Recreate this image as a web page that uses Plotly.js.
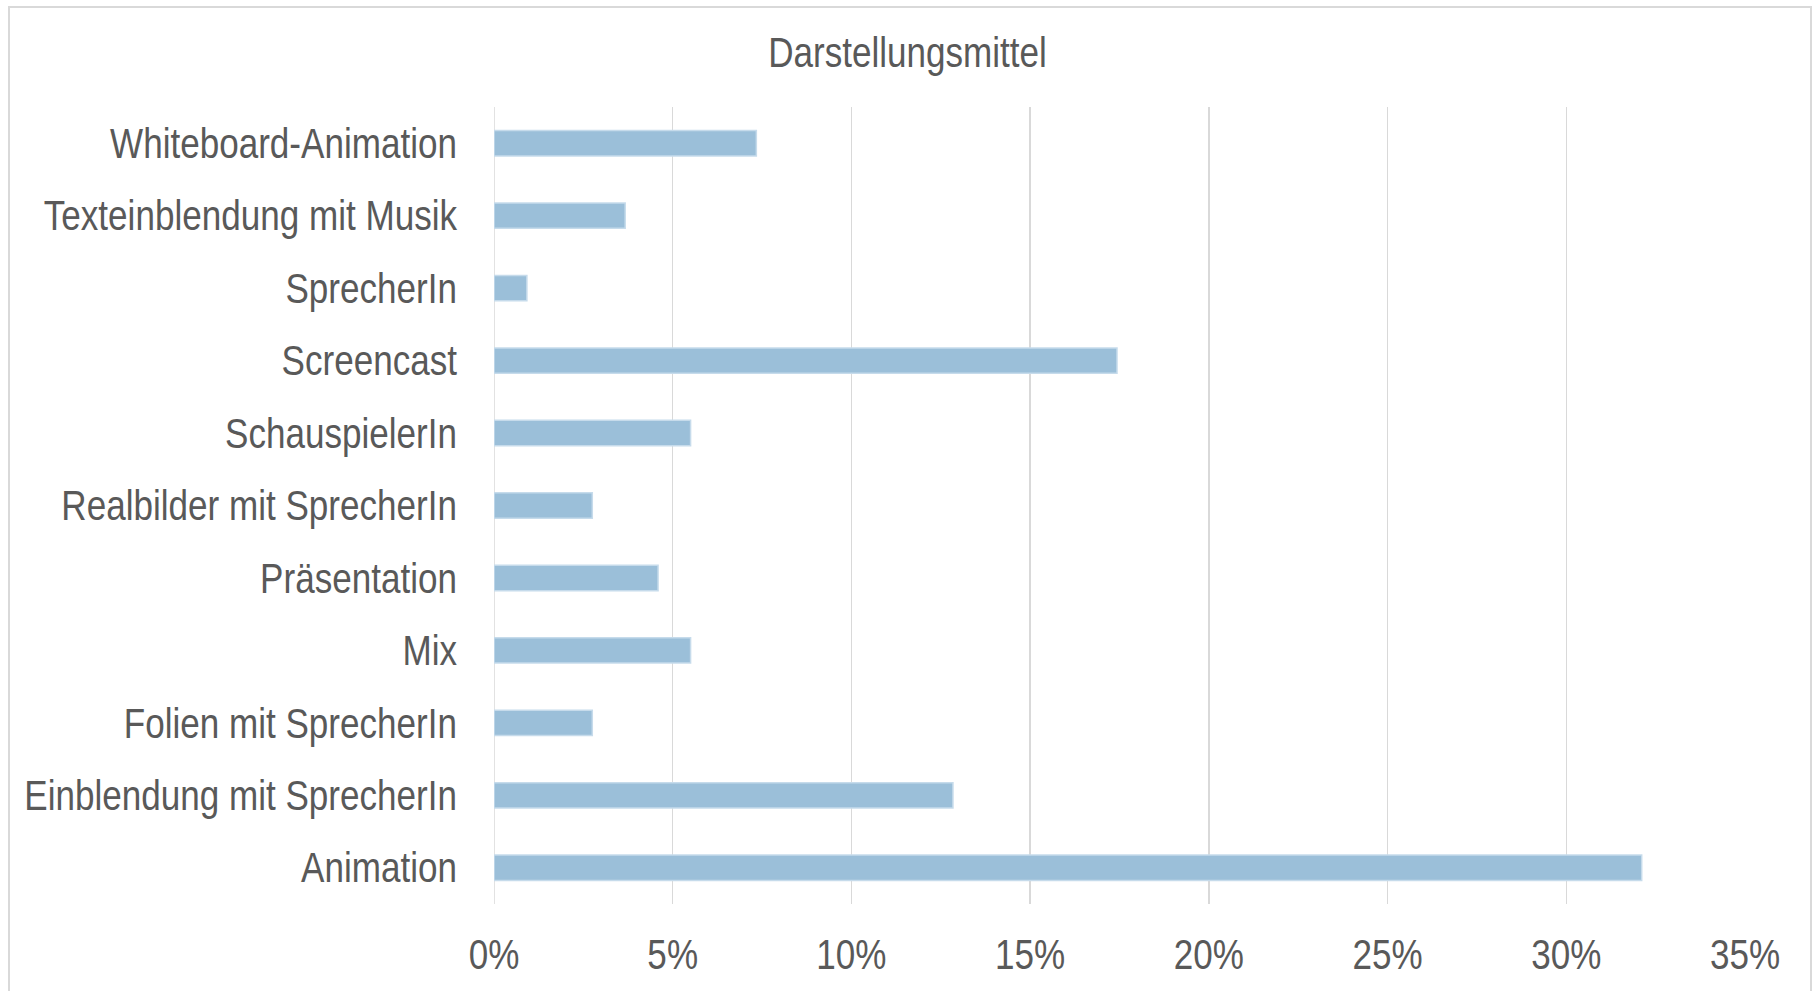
<!DOCTYPE html>
<html>
<head>
<meta charset="utf-8">
<script src="https://cdn.plot.ly/plotly-3.0.1.min.js"></script>
<style>
html,body{margin:0;padding:0;background:#fff;overflow:hidden;}
#wrap{position:relative;width:1815px;height:991px;}
#chart{position:absolute;left:0;top:0;width:1815px;height:991px;}
#frame{position:absolute;left:8px;top:6px;width:1800px;height:1010px;border:2px solid #d9d9d9;pointer-events:none;}
</style>
</head>
<body>
<div id="wrap"><div id="chart"></div><div id="frame"></div></div>
<script>
// categories listed bottom to top
const categories = [
  "Animation",
  "Einblendung mit SprecherIn",
  "Folien mit SprecherIn",
  "Mix",
  "Präsentation",
  "Realbilder mit SprecherIn",
  "SchauspielerIn",
  "Screencast",
  "SprecherIn",
  "Texteinblendung mit Musik",
  "Whiteboard-Animation"
];
const shares = [32.11, 12.84, 2.75, 5.50, 4.59, 2.75, 5.50, 17.43, 0.92, 3.67, 7.34];
const xTicks = [0, 5, 10, 15, 20, 25, 30, 35];
const xTickLabels = ["0%", "5%", "10%", "15%", "20%", "25%", "30%", "35%"];
const chartTitle = "Darstellungsmittel";

const font = "'Liberation Sans', Arial, sans-serif";
const textColor = "#595959";
const narrow = 0.835;

function squeeze(sel, k) {
  document.querySelectorAll(sel).forEach(function (t) {
    const x = parseFloat(t.getAttribute("x")) || 0;
    const tr = t.getAttribute("transform") || "";
    t.setAttribute("transform", tr + " translate(" + x + ",0) scale(" + k + ",1) translate(" + (-x) + ",0)");
  });
}

Plotly.newPlot("chart", [{
  type: "bar",
  orientation: "h",
  y: categories,
  x: shares,
  width: 0.35,
  marker: {color: "#9bbfd9", line: {color: "#c6dbeb", width: 1.5}},
  hoverinfo: "x+y"
}], {
  width: 1815,
  height: 991,
  paper_bgcolor: "#ffffff",
  plot_bgcolor: "#ffffff",
  margin: {l: 494, r: 70, t: 107, b: 87},
  title: {text: chartTitle, x: 0.5, xref: "container", y: 0.947, yanchor: "middle",
          font: {family: font, size: 42, color: textColor}},
  showlegend: false,
  xaxis: {
    range: [0, 35],
    tickvals: xTicks,
    ticktext: xTickLabels,
    showgrid: true,
    gridcolor: "#d9d9d9",
    gridwidth: 1.5,
    zeroline: false,
    showline: false,
    ticks: "",
    ticklabelstandoff: 22,
    tickfont: {family: font, size: 42, color: textColor}
  },
  yaxis: {
    type: "category",
    showgrid: false,
    zeroline: false,
    showline: false,
    ticks: "",
    ticklabelstandoff: 36,
    tickfont: {family: font, size: 42, color: textColor}
  },
  shapes: [{type: "line", xref: "x", yref: "paper", x0: 0, x1: 0, y0: 0, y1: 1,
            line: {color: "#d9d9d9", width: 1.5}, layer: "below"}]
}, {displayModeBar: false, staticPlot: true}).then(function () {
  squeeze(".ytick text", narrow);
  squeeze(".xtick text", narrow);
  squeeze(".gtitle", narrow);
});
</script>
</body>
</html>
